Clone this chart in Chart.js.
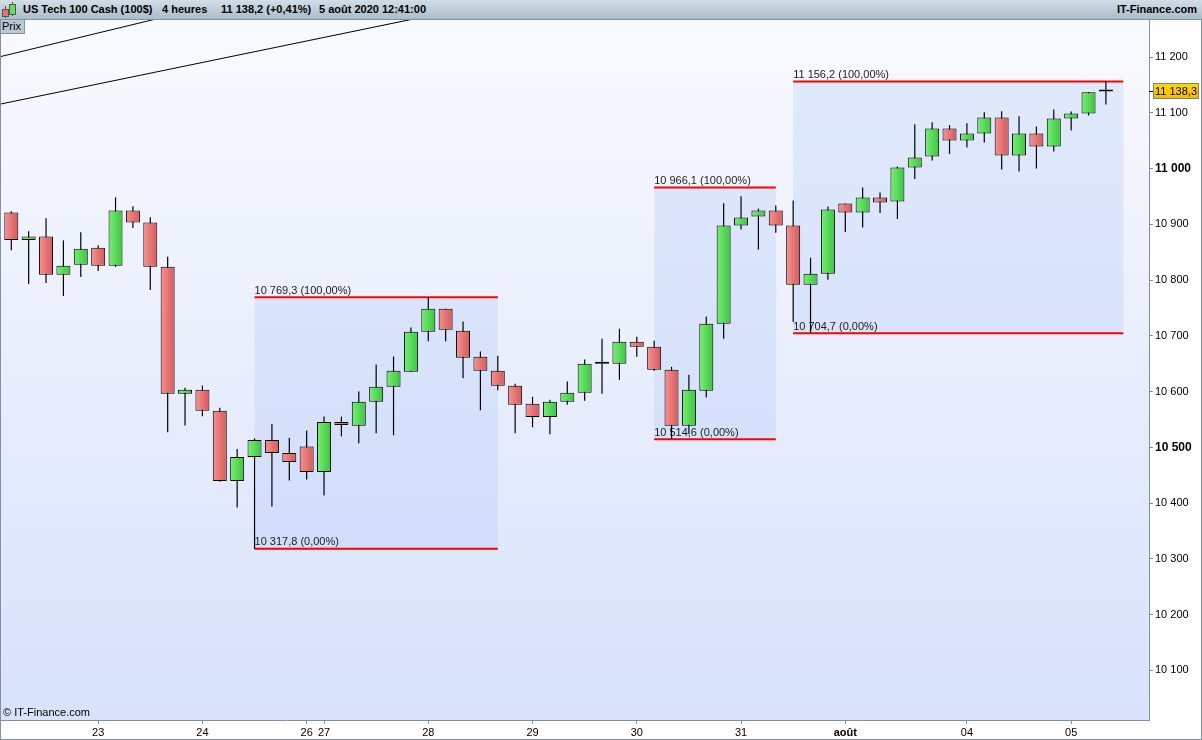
<!DOCTYPE html>
<html lang="fr">
<head>
<meta charset="utf-8">
<script src="https://cdn.jsdelivr.net/npm/chart.js@4"></script>
<style>
body{margin:0;background:#fff;font-family:"Liberation Sans",Arial,sans-serif}
#cadre{position:relative;width:1202px;height:740px;overflow:hidden}
#entete{position:absolute;left:0;top:0;width:1202px;height:19px;background:linear-gradient(#d2dee6,#aabdcb);border-bottom:1px solid #7d93a3;font-size:11px;font-weight:bold;line-height:19px;color:#000}
#entete span{position:absolute;top:0;white-space:nowrap}
#prix{position:absolute;left:0;top:20px;width:22px;height:13px;background:#b8c8d4;border:1px solid #7d93a3;border-top:0;font-size:11px;line-height:13px;padding-left:1px}
.bougie{position:absolute;border:1px solid #555}
.meche{position:absolute;width:1px;background:#555}
</style>
</head>
<body>
<div id="cadre">
  <canvas id="graphique" width="1202" height="740"></canvas>
  <div id="entete">
    <div class="meche" style="left:5px;top:6px;height:12px"></div>
    <div class="bougie" style="left:2px;top:9px;width:5px;height:6px;background:#ee6f6f"></div>
    <div class="meche" style="left:12px;top:2px;height:14px"></div>
    <div class="bougie" style="left:9px;top:4px;width:5px;height:9px;background:#5fe05f"></div>
    <span style="left:23px">US Tech 100 Cash (100$)</span>
    <span style="left:162px">4 heures</span>
    <span style="left:221px">11 138,2 (+0,41%)</span>
    <span style="left:319px">5 août 2020 12:41:00</span>
    <span style="right:5px">IT-Finance.com</span>
  </div>
  <div id="prix">Prix</div>
</div>
<script>
// bougies 4 heures, du 22 juillet au 5 août 2020
const ouvertures = [10921.0,10871.7,10877.9,10809.6,10827.6,10858.1,10825.8,10924.6,10903.0,10824.0,
  10595.8,10603.0,10565.3,10439.6,10482.7,10513.2,10489.9,10501.2,10455.7,10545.5,
  10538.4,10581.5,10608.4,10635.4,10707.2,10748.5,10709.0,10662.3,10637.2,10610.2,
  10577.9,10554.5,10581.5,10597.6,10649.7,10649.7,10689.2,10680.3,10638.9,10538.4,
  10601.2,10721.6,10897.6,10913.8,10924.6,10897.6,10791.6,10811.4,10937.1,10921.0,
  10947.9,10940.7,11001.8,11021.6,11071.9,11050.3,11062.9,11091.6,11023.4,11062.9,
  11039.5,11089.8,11098.8,11138.3]
const plusHauts = [10923.3,10887.4,10910.7,10871.2,10885.6,10862.2,10948.4,10932.3,10912.5,10841.9,
  10606.6,10610.7,10570.7,10497.0,10516.1,10541.9,10517.3,10529.9,10555.1,10555.1,
  10600.0,10648.5,10662.8,10714.9,10769.3,10748.5,10725.7,10671.8,10664.1,10613.8,
  10590.4,10585.1,10617.9,10657.4,10694.6,10712.6,10698.2,10691.0,10644.3,10629.9,
  10734.7,10937.7,10950.2,10928.1,10933.5,10942.5,10840.1,10931.7,10937.1,10965.9,
  10956.9,11003.6,11079.6,11083.2,11077.8,11081.4,11101.1,11102.9,11093.9,11075.4,
  11106.0,11102.4,11137.0,11156.2]
const plusBas = [10853.2,10792.7,10794.5,10771.2,10805.3,10816.1,10823.2,10893.3,10781.9,10526.9,
  10538.9,10555.6,10438.0,10392.1,10317.8,10393.9,10440.6,10442.4,10413.7,10519.7,
  10507.1,10525.1,10521.5,10635.4,10690.3,10690.3,10623.9,10566.4,10602.3,10525.1,
  10535.8,10523.3,10576.1,10583.3,10595.8,10621.0,10662.3,10637.2,10514.6,10524.0,
  10589.7,10694.6,10890.4,10854.5,10885.0,10724.5,10704.7,10800.6,10886.1,10894.0,
  10920.2,10909.5,10981.3,11014.4,11026.2,11037.7,11046.7,10998.2,10994.6,11000.0,
  11030.5,11068.3,11095.2,11115.0]
const clotures = [10871.7,10877.9,10809.6,10825.8,10856.3,10825.8,10924.6,10903.0,10824.0,10595.8,
  10603.0,10565.3,10439.6,10482.7,10513.2,10489.9,10473.7,10455.7,10545.5,10540.1,
  10581.5,10608.4,10637.2,10707.2,10748.5,10710.8,10660.5,10637.2,10610.2,10576.1,
  10554.5,10581.5,10597.6,10649.7,10649.7,10689.2,10680.3,10638.9,10538.4,10603.0,
  10721.6,10897.6,10912.0,10924.6,10897.6,10791.6,10811.4,10926.4,10921.0,10947.9,
  10938.9,11001.8,11019.8,11071.9,11050.3,11062.9,11091.6,11023.4,11062.9,11039.5,
  11089.8,11098.8,11137.0,11138.3]

// axe du temps : rang de la bougie portant le libellé du jour
const rangsJours = [5, 11, 17, 18, 24, 30, 36, 42, 48, 55, 61]
const libellesJours = ["23", "24", "26", "27", "28", "29", "30", "31", "août", "04", "05"]

// axe des prix
const ticksPrix = [10100, 10200, 10300, 10400, 10500, 10600, 10700, 10800, 10900, 11000, 11100, 11200]
const dernierPrix = 11138.3

// retracements (début, fin en rang de bougie, niveaux 100% et 0%)
const zoneDebut = [14, 37, 45]
const zoneFin = [28, 44, 64]
const zoneHaut = [10769.3, 10966.1, 11156.2]
const zoneBas = [10317.8, 10514.6, 10704.7]

// droites de tendance tracées à la main
const droite1 = [{x: -1, y: 11197.9}, {x: 20, y: 11356.2}]
const droite2 = [{x: -1, y: 11113.2}, {x: 40, y: 11376.4}]

function enMilliers(v) {
  let s = String(Math.round(v))
  return s.slice(0, s.length - 3) + " " + s.slice(-3)
}
function prixTexte(v) {
  let ent = Math.floor(v)
  let dec = Math.round((v - ent) * 10)
  return enMilliers(ent) + "," + dec
}

// dégradé horizontal du corps des bougies
function remplissage(ctx) {
  let i = ctx.dataIndex
  if (i === undefined) return "#888"
  let o = ouvertures[i], c = clotures[i]
  if (o === c) return "#000"
  let chart = ctx.chart
  let hausse = c > o
  if (!chart.scales.x || !chart.chartArea) return hausse ? "#55d855" : "#e87070"
  let px = chart.scales.x.getPixelForValue(i)
  let g = chart.ctx.createLinearGradient(px - 7, 0, px + 7, 0)
  if (hausse) {
    g.addColorStop(0, "#76ef76")
    g.addColorStop(1, "#3ec43e")
  } else {
    g.addColorStop(0, "#f89191")
    g.addColorStop(1, "#d45a5a")
  }
  return g
}

const decor = {
  id: "decor",
  beforeDraw(chart) {
    const {ctx, chartArea: a} = chart
    ctx.save()
    let g = ctx.createLinearGradient(0, a.top, 0, a.bottom)
    g.addColorStop(0, "#f9fafe")
    g.addColorStop(1, "#d8e2fb")
    ctx.fillStyle = g
    ctx.fillRect(a.left, a.top, a.right - a.left, a.bottom - a.top)
    ctx.restore()
  },
  beforeDatasetsDraw(chart) {
    const {ctx, scales: {x, y}} = chart
    ctx.save()
    ctx.font = '11px "Liberation Sans", Arial, sans-serif'
    ctx.textBaseline = "bottom"
    for (let k = 0; k < zoneDebut.length; k++) {
      let x0 = x.getPixelForValue(zoneDebut[k])
      let x1 = x.getPixelForValue(zoneFin[k])
      let yh = y.getPixelForValue(zoneHaut[k])
      let yb = y.getPixelForValue(zoneBas[k])
      ctx.fillStyle = "rgba(175,198,250,0.3)"
      ctx.fillRect(x0, yh, x1 - x0, yb - yh)
      ctx.strokeStyle = "#ff0000"
      ctx.lineWidth = 2
      ctx.beginPath()
      ctx.moveTo(x0, yh); ctx.lineTo(x1, yh)
      ctx.moveTo(x0, yb); ctx.lineTo(x1, yb)
      ctx.stroke()
      ctx.fillStyle = "#1c1c1c"
      ctx.fillText(prixTexte(zoneHaut[k]) + " (100,00%)", x0, yh - 1)
      ctx.fillText(prixTexte(zoneBas[k]) + " (0,00%)", x0, yb - 1)
    }
    ctx.restore()
  },
  afterDraw(chart) {
    const {ctx, chartArea: a, scales: {y}} = chart
    ctx.save()
    ctx.font = '11px "Liberation Sans", Arial, sans-serif'
    ctx.fillStyle = "#000"
    ctx.textBaseline = "middle"
    ctx.fillText("© IT-Finance.com", a.left + 3, a.bottom - 7)
    // étiquette du dernier cours
    let yp = Math.round(y.getPixelForValue(dernierPrix))
    let g = ctx.createLinearGradient(0, yp - 7, 0, yp + 8)
    g.addColorStop(0, "#ffd800")
    g.addColorStop(1, "#f5b800")
    ctx.fillStyle = g
    ctx.fillRect(1153.5, yp - 7.5, 45, 15)
    ctx.strokeStyle = "#6d8597"
    ctx.lineWidth = 1
    ctx.strokeRect(1153.5, yp - 7.5, 45, 15)
    ctx.beginPath()
    ctx.moveTo(a.right, yp + 0.5); ctx.lineTo(a.right + 4, yp + 0.5)
    ctx.strokeStyle = "#000"
    ctx.stroke()
    ctx.fillStyle = "#000"
    ctx.fillText(prixTexte(dernierPrix), 1155, yp + 1)
    // cadre
    ctx.strokeStyle = "#7d93a3"
    ctx.strokeRect(0.5, 0.5, 1201, 739)
    ctx.restore()
  }
}

const corps = ouvertures.map((o, i) => ({x: i, y: [o, clotures[i]]}))
const meches = plusBas.map((b, i) => ({x: i, y: [b, plusHauts[i]]}))

new Chart(document.getElementById("graphique"), {
  type: "bar",
  data: {
    datasets: [
      {
        type: "line", data: droite1, borderColor: "#000", borderWidth: 1,
        pointRadius: 0, order: 3
      },
      {
        type: "line", data: droite2, borderColor: "#000", borderWidth: 1,
        pointRadius: 0, order: 3
      },
      {
        data: meches, backgroundColor: "#000", borderWidth: 0,
        barThickness: 1.2, grouped: false, order: 2, inflateAmount: 0
      },
      {
        data: corps, backgroundColor: remplissage, borderColor: "#000", borderWidth: 1,
        borderSkipped: false, barThickness: 14, minBarLength: 2, grouped: false,
        order: 1, inflateAmount: 0
      }
    ]
  },
  options: {
    responsive: false,
    animation: false,
    layout: {padding: {top: 20, left: 0, right: 0, bottom: 0}},
    plugins: {legend: {display: false}, tooltip: {enabled: false}},
    scales: {
      x: {
        type: "linear",
        offset: false,
        min: -0.65,
        max: 65.48,
        afterBuildTicks: (s) => { s.ticks = rangsJours.map(v => ({value: v})) },
        afterFit: (s) => { s.height = 20 },
        grid: {offset: false, drawOnChartArea: false, tickLength: 4, color: "#7d93a3"},
        border: {color: "#7d93a3"},
        ticks: {
          autoSkip: false, maxRotation: 0, padding: 2, color: "#000",
          callback: (v) => libellesJours[rangsJours.indexOf(v)],
          font: (c) => ({family: '"Liberation Sans", Arial, sans-serif', size: 11,
            weight: c.tick && libellesJours[rangsJours.indexOf(c.tick.value)] === "août" ? "bold" : "normal"})
        }
      },
      y: {
        position: "right",
        min: 10010.8,
        max: 11266.4,
        afterBuildTicks: (s) => { s.ticks = ticksPrix.map(v => ({value: v})) },
        afterFit: (s) => { s.width = 53 },
        grid: {drawOnChartArea: false, tickLength: 4, color: "#7d93a3"},
        border: {color: "#7d93a3"},
        ticks: {
          padding: 2, color: "#000",
          callback: (v) => enMilliers(v),
          font: (c) => (c.tick && c.tick.value % 500 === 0
            ? {family: '"Liberation Sans", Arial, sans-serif', size: 12, weight: "bold"}
            : {family: '"Liberation Sans", Arial, sans-serif', size: 11})
        }
      }
    }
  },
  plugins: [decor]
})
</script>
</body>
</html>
